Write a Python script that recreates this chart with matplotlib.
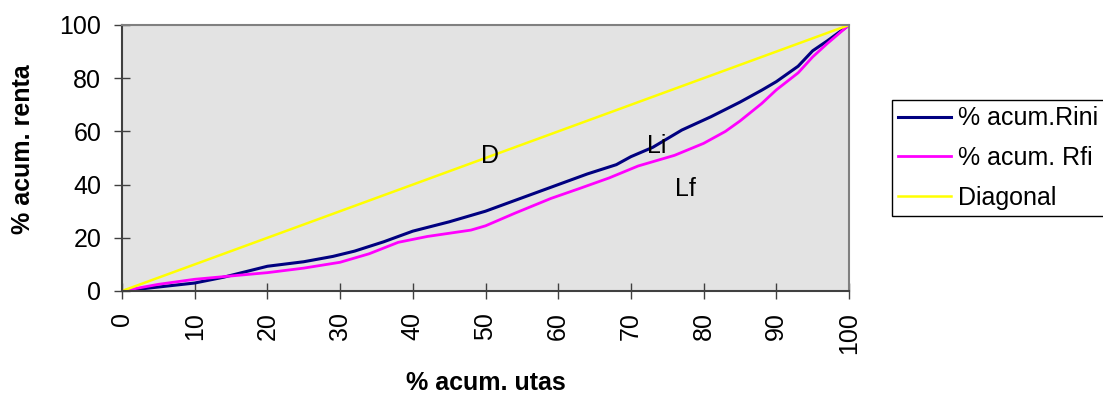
import numpy as np
import matplotlib
matplotlib.use("Agg")
import matplotlib.pyplot as plt

plt.rcParams['font.family'] = ['Liberation Sans', 'DejaVu Sans']

# % acum. utas (eje x) y curvas de Lorenz
x_ini = [0, 5, 10, 14, 20, 25, 29, 32, 36, 40, 45, 50, 55, 60, 64, 68, 70, 73, 77, 81, 85, 88, 90, 93, 95, 97, 100]
y_ini = [0, 1.5, 3, 5.2, 9.3, 11, 13, 15, 18.5, 22.5, 26, 30, 35, 40, 44, 47.5, 50.5, 54, 60.5, 65.5, 71, 75.5, 78.7, 84.5, 90.3, 94, 100]

x_fin = [0, 5, 10, 14, 20, 25, 30, 34, 38, 42, 48, 50, 54, 59, 63, 67, 71, 76, 80, 83, 85, 88, 90, 93, 95, 97, 100]
y_fin = [0, 2.5, 4.4, 5.4, 6.9, 8.6, 10.8, 14, 18.3, 20.5, 22.9, 24.5, 29.2, 34.8, 38.6, 42.5, 47, 51, 55.5, 60, 63.9, 70.5, 75.6, 82, 88, 93, 100]

x_diag = [0, 100]
y_diag = [0, 100]

labels = ['% acum.Rini', '% acum. Rfi', 'Diagonal']
ticks = [0, 10, 20, 30, 40, 50, 60, 70, 80, 90, 100]
yticks = [0, 20, 40, 60, 80, 100]

fig = plt.figure(figsize=(11.03, 3.94), dpi=100)
ax = fig.add_axes([122/1103, 1-291/394, 727/1103, 266/394])
ax.set_facecolor('#e3e3e3')

ax.plot(x_ini, y_ini, color='#000080', lw=2.2, label=labels[0])
ax.plot(x_fin, y_fin, color='#ff00ff', lw=2.0, label=labels[1])
ax.plot(x_diag, y_diag, color='#ffff00', lw=1.8, label=labels[2])

ax.text(50.6, 50.8, 'D', fontsize=18, ha='center', va='center')
ax.text(73.5, 54.5, 'Li', fontsize=18, ha='center', va='center')
ax.text(77.5, 38.3, 'Lf', fontsize=18, ha='center', va='center')

ax.set_xlim(0, 100)
ax.set_ylim(0, 100)
ax.set_xticks(ticks)
ax.set_yticks(yticks)
ax.set_xticklabels([str(t) for t in ticks], rotation=90, fontsize=18)
ax.set_yticklabels([str(t) for t in yticks], fontsize=18)
ax.tick_params(axis='both', direction='inout', length=12, width=1, colors='#404040',
               labelcolor='black')
ax.tick_params(axis='x', pad=9)
ax.tick_params(axis='y', pad=9)

for s in ['left', 'bottom']:
    ax.spines[s].set_color('#404040')
    ax.spines[s].set_linewidth(1.5)
for s in ['top', 'right']:
    ax.spines[s].set_color('#808080')
    ax.spines[s].set_linewidth(1.5)

ax.set_xlabel('% acum. utas', fontsize=18, fontweight='bold', va='center')
ax.xaxis.set_label_coords(0.5, -0.346)
ax.set_ylabel('% acum. renta', fontsize=18, fontweight='bold', va='center')
ax.yaxis.set_label_coords(-0.136, 0.534)

leg = fig.legend(loc='upper left', bbox_to_anchor=(892/1103, 1-100/394),
                 fontsize=18, frameon=True, fancybox=False, framealpha=1,
                 edgecolor='black', handlelength=2.1, handletextpad=0.3,
                 borderpad=0.25, labelspacing=0.63, borderaxespad=0)
leg.get_frame().set_linewidth(1.0)

fig.savefig('out.png', dpi=100)
